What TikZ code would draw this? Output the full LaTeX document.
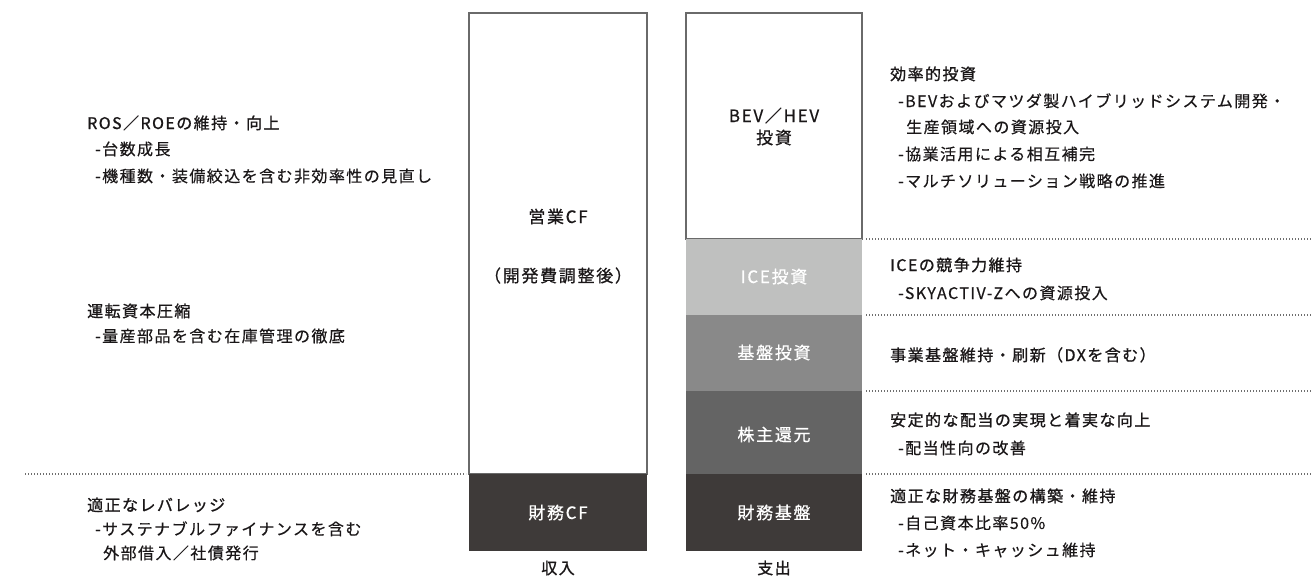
\documentclass[tikz,border=0pt]{standalone}
\usepackage{fontspec}
\newfontfamily\jp[LetterSpace=9,FakeBold=0.35]{Noto Sans CJK JP}
\newfontfamily\jpb[LetterSpace=9,FakeBold=1.0]{Noto Sans CJK JP}
\newfontfamily\jpm[LetterSpace=10,FakeBold=0.6]{Noto Sans CJK JP}
\definecolor{ink}{HTML}{1A1718}
\definecolor{edge}{HTML}{6A6A6A}
\definecolor{gA}{HTML}{BFC0BF}
\definecolor{gB}{HTML}{898989}
\definecolor{gC}{HTML}{646464}
\definecolor{gD}{HTML}{3E3A39}
\definecolor{dotc}{HTML}{6E6E6E}
\tikzset{
  txt/.style={anchor=base west, inner sep=0pt, text=ink, font=\jp\fontsize{16}{20}\selectfont},
  hd/.style={anchor=base west, inner sep=0pt, text=ink, font=\jpb\fontsize{16}{20}\selectfont},
  barlbl/.style={anchor=base, inner sep=0pt, font=\jpm\fontsize{17}{20}\selectfont},
  bar/.style={anchor=north west, rectangle, inner sep=0pt, outer sep=0pt},
  dotline/.style={draw=dotc, line width=1.2pt, dash pattern=on 1.2pt off 1.8pt}
}
\begin{document}
\begin{tikzpicture}[x=1pt,y=-1pt]
\useasboundingbox (0,0) rectangle (1312,578);
\fill[white] (0,0) rectangle (1312,578);

% income bar
\node[bar, fill=white, draw=edge, line width=1.1pt, minimum width=178pt, minimum height=461pt] (opcf) at (469,13) {};
\node[bar, fill=gD, minimum width=178pt, minimum height=77pt] (fincf) at (469,474) {};
% expenditure bar
\node[bar, fill=white, draw=edge, line width=1.1pt, minimum width=176pt, minimum height=226pt] (bev) at (686,13) {};
\node[bar, fill=gA, minimum width=176pt, minimum height=76pt] (ice) at (686,239) {};
\node[bar, fill=gB, minimum width=176pt, minimum height=76pt] (base) at (686,315) {};
\node[bar, fill=gC, minimum width=176pt, minimum height=83pt] (share) at (686,391) {};
\node[bar, fill=gD, minimum width=176pt, minimum height=77pt] (finb) at (686,474) {};

% bar labels
\node[barlbl, text=ink] (t1) at (558,223) {営業CF};
\node[barlbl, text=ink] (t2) at (558,282) {（開発費調整後）};
\node[barlbl, text=white] (t3) at (558,519) {財務CF};
\node[barlbl, text=ink] (t4) at (774,122) {BEV／HEV};
\node[barlbl, text=ink] (t5) at (774,144) {投資};
\node[barlbl, text=white] (t6) at (774,283) {ICE投資};
\node[barlbl, text=white] (t7) at (774,359) {基盤投資};
\node[barlbl, text=white] (t8) at (774,441) {株主還元};
\node[barlbl, text=white] (t9) at (774,519) {財務基盤};
\node[barlbl, text=ink, font=\jpb\fontsize{16}{20}\selectfont] (inc) at (558,574) {収入};
\node[barlbl, text=ink, font=\jpb\fontsize{16}{20}\selectfont] (exp) at (774,574) {支出};

% dotted separators
\coordinate (dL) at (25,474);
\coordinate (dR1) at (1312,239);
\coordinate (dR2) at (1312,315);
\coordinate (dR3) at (1312,391);
\coordinate (dR4) at (1312,474);
\draw[dotline] (dL) -- ([xshift=-3pt]fincf.north west);
\draw[dotline] ([xshift=4pt]ice.north east) -- (dR1);
\draw[dotline] ([xshift=4pt]base.north east) -- (dR2);
\draw[dotline] ([xshift=4pt]share.north east) -- (dR3);
\draw[dotline] ([xshift=4pt]finb.north east) -- (dR4);

% left texts
\node[hd]  (a1) at (87,129) {ROS／ROEの維持・向上};
\node[txt] (a2) at (95,155) {-台数成長};
\node[txt] (a3) at (95,182) {-機種数・装備絞込を含む非効率性の見直し};
\node[hd]  (b1) at (87,317) {運転資本圧縮};
\node[txt] (b2) at (95,342) {-量産部品を含む在庫管理の徹底};
\node[hd]  (c1) at (87,511) {適正なレバレッジ};
\node[txt] (c2) at (95,535) {-サステナブルファイナンスを含む};
\node[txt] (c3) at (103,559) {外部借入／社債発行};

% right texts
\node[hd]  (r1) at (890,80) {効率的投資};
\node[txt] (r2) at (898,107) {-BEVおよびマツダ製ハイブリッドシステム開発・};
\node[txt] (r3) at (906,133) {生産領域への資源投入};
\node[txt] (r4) at (898,160) {-協業活用による相互補完};
\node[txt] (r5) at (898,187) {-マルチソリューション戦略の推進};
\node[hd]  (s1) at (890,271) {ICEの競争力維持};
\node[txt] (s2) at (898,299) {-SKYACTIV-Zへの資源投入};
\node[hd]  (u1) at (890,361) {事業基盤維持・刷新（DXを含む）};
\node[hd]  (v1) at (890,426) {安定的な配当の実現と着実な向上};
\node[txt] (v2) at (898,454) {-配当性向の改善};
\node[hd]  (w1) at (890,502) {適正な財務基盤の構築・維持};
\node[txt] (w2) at (898,529) {-自己資本比率50\%};
\node[txt] (w3) at (898,556) {-ネット・キャッシュ維持};
\end{tikzpicture}
\end{document}
